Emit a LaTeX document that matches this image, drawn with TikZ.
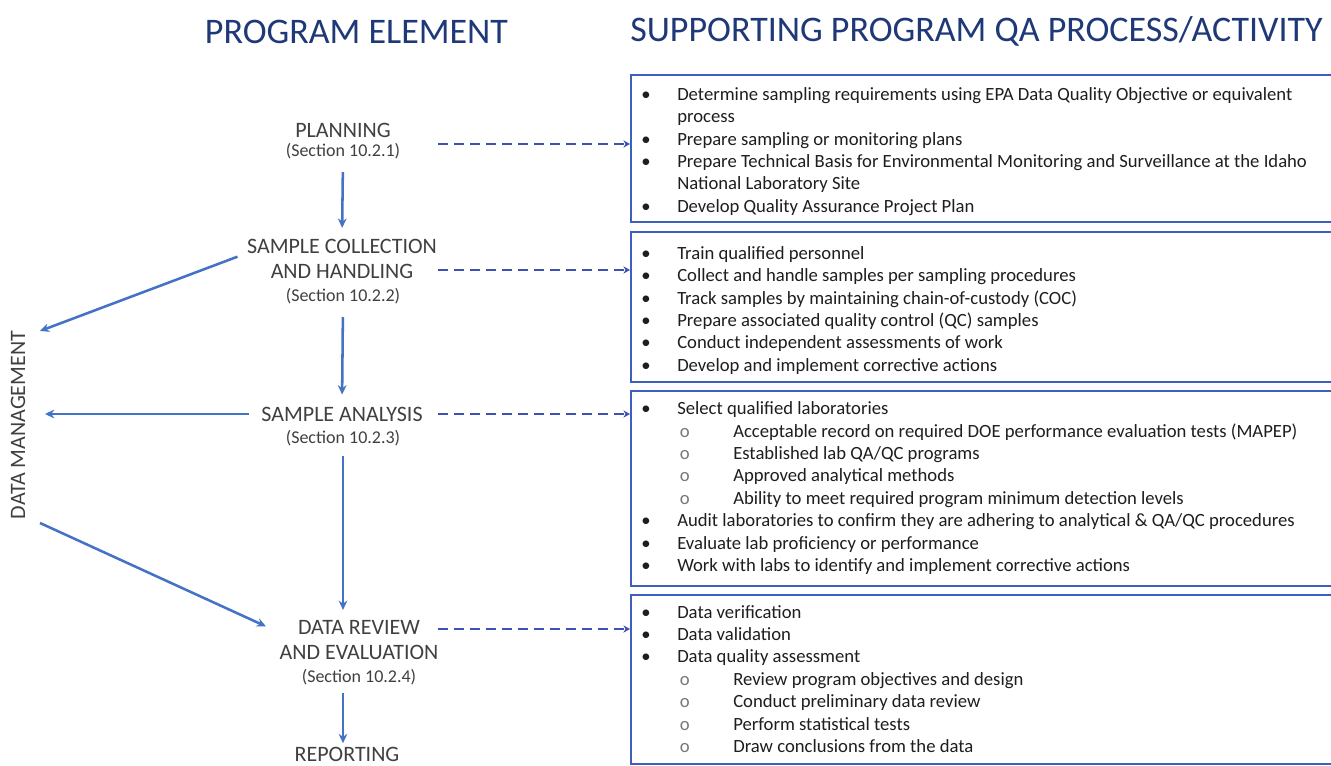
\documentclass[tikz,border=0pt]{standalone}
\usepackage{fontspec}
\setmainfont{Carlito}
\usetikzlibrary{arrows.meta}
\definecolor{titleblue}{RGB}{31,56,120}
\definecolor{labelgray}{RGB}{64,64,64}
\definecolor{arrowblue}{RGB}{68,114,196}
\definecolor{dashblue}{RGB}{63,81,181}
\definecolor{boxblue}{RGB}{63,95,191}
\definecolor{txtcol}{RGB}{30,30,30}
\definecolor{subgray}{RGB}{120,120,120}
\newcommand{\bl}[1]{\makebox[27pt][l]{\textbullet}#1}
\newcommand{\sbl}[1]{\hspace*{29pt}\makebox[40pt][l]{\textcolor{subgray}{o}}#1}
\newcommand{\cont}[1]{\hspace*{27pt}#1}
\begin{document}
\begin{tikzpicture}[x=0.75pt,y=-0.75pt,
 title/.style={font=\fontsize{27}{32}\selectfont, text=titleblue, inner sep=0},
 elem/.style={font=\fontsize{16.5}{18.75}\selectfont, text=labelgray, align=center, inner sep=0},
 sect/.style={font=\fontsize{13.5}{16}\selectfont, text=labelgray, inner sep=0},
 qabox/.style={draw=boxblue, line width=1.2pt, minimum width=540pt, anchor=north west, inner sep=0},
 qatext/.style={font=\fontsize{14}{16.8}\selectfont, text=txtcol, align=left, anchor=north west, inner sep=0},
 arr/.style={draw=arrowblue, line width=1.9pt, -{Stealth[length=7pt,width=6.5pt]}},
 dasharr/.style={draw=dashblue, line width=2.2pt, dash pattern=on 7.5pt off 4.5pt, -{Stealth[length=5pt,width=5.5pt]}}]
\useasboundingbox (0,0) rectangle (1331,766);
\fill[white] (0,0) rectangle (1331,766);

% titles
\node[title] (t1) at (356.5,31.5) {PROGRAM ELEMENT};
\node[title] (t2) at (976.5,31.5) {SUPPORTING PROGRAM QA PROCESS/ACTIVITY};

% program elements
\node[elem] (plan) at (343,130) {PLANNING};
\node[sect] (plansec) at (343,151) {(Section 10.2.1)};
\node[elem] (scol) at (342,258.5) {SAMPLE COLLECTION\\AND HANDLING};
\node[sect] (scolsec) at (343,296) {(Section 10.2.2)};
\node[elem] (sa) at (342,414) {SAMPLE ANALYSIS};
\node[sect] (sasec) at (343,438) {(Section 10.2.3)};
\node[elem] (dr) at (359,640.5) {DATA REVIEW\\AND EVALUATION};
\node[sect] (drsec) at (359,677) {(Section 10.2.4)};
\node[elem] (rep) at (347,754) {REPORTING};
\node[elem, rotate=90] (dm) at (18,425) {DATA MANAGEMENT};

% QA boxes
\node[qabox, minimum height=110.25pt] (box1) at (630,74) {};
\node[qabox, minimum height=112.5pt] (box2) at (630,231) {};
\node[qabox, minimum height=146.25pt] (box3) at (630,390) {};
\node[qabox, minimum height=126.75pt] (box4) at (630,594) {};

\node[qatext] (txt1) at (641,87) {%
\bl{Determine sampling requirements using EPA Data Quality Objective or equivalent}\\
\cont{process}\\
\bl{Prepare sampling or monitoring plans}\\
\bl{Prepare Technical Basis for Environmental Monitoring and Surveillance at the Idaho}\\
\cont{National Laboratory Site}\\
\bl{Develop Quality Assurance Project Plan}};

\node[qatext] (txt2) at (641,246) {%
\bl{Train qualified personnel}\\
\bl{Collect and handle samples per sampling procedures}\\
\bl{Track samples by maintaining chain-of-custody (COC)}\\
\bl{Prepare associated quality control (QC) samples}\\
\bl{Conduct independent assessments of work}\\
\bl{Develop and implement corrective actions}};

\node[qatext] (txt3) at (641,401.5) {%
\bl{Select qualified laboratories}\\
\sbl{Acceptable record on required DOE performance evaluation tests (MAPEP)}\\
\sbl{Established lab QA/QC programs}\\
\sbl{Approved analytical methods}\\
\sbl{Ability to meet required program minimum detection levels}\\
\bl{Audit laboratories to confirm they are adhering to analytical \& QA/QC procedures}\\
\bl{Evaluate lab proficiency or performance}\\
\bl{Work with labs to identify and implement corrective actions}};

\node[qatext] (txt4) at (641,605) {%
\bl{Data verification}\\
\bl{Data validation}\\
\bl{Data quality assessment}\\
\sbl{Review program objectives and design}\\
\sbl{Conduct preliminary data review}\\
\sbl{Perform statistical tests}\\
\sbl{Draw conclusions from the data}};

% vertical flow arrows
\draw[arr, shorten <=9.75pt, shorten >=8pt] (plansec.south) -- (scol.north);
\draw[arr, shorten <=9.75pt, shorten >=9pt] (scolsec.south) -- (sa.north);
\draw[arr, shorten <=7.5pt, shorten >=8pt] (sasec.south) -- (sasec.south |- dr.north);
\draw[arr, shorten <=6pt, shorten >=2.5pt] (sasec.south |- drsec.south) -- (sasec.south |- rep.north);

% data management arrows
\coordinate (dm1) at (40,331);
\coordinate (dm2) at (45,414);
\coordinate (dm3) at (40,523);
\draw[arr, shorten <=7.5pt] ([yshift=4pt]scol.west) -- (dm1);
\draw[arr, shorten <=9pt] (sa.west) -- (dm2);
\draw[arr, shorten >=11pt] (dm3) -- ([yshift=6pt]dr.west);

% dashed arrows to QA boxes
\coordinate (ds1) at (438,144);
\coordinate (ds2) at (438,270);
\coordinate (ds3) at (438,414);
\coordinate (ds4) at (438,629);
\draw[dasharr] (ds1) -- (ds1 -| box1.west);
\draw[dasharr] (ds2) -- (ds2 -| box2.west);
\draw[dasharr] (ds3) -- (ds3 -| box3.west);
\draw[dasharr] (ds4) -- (ds4 -| box4.west);
\end{tikzpicture}
\end{document}
